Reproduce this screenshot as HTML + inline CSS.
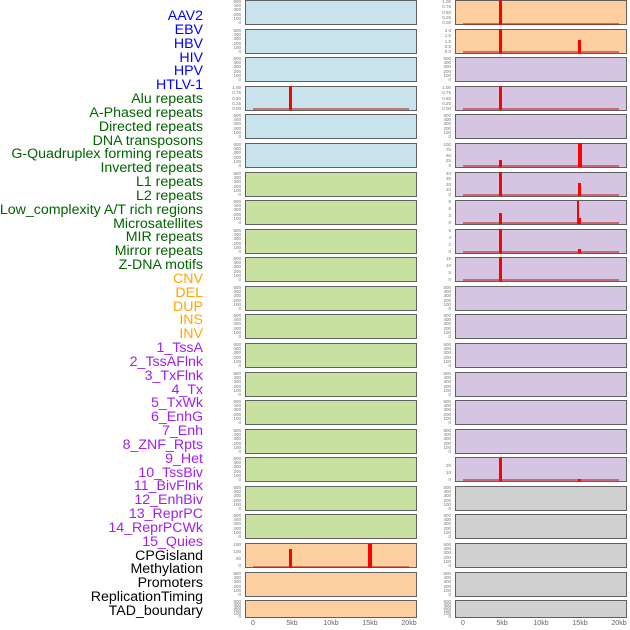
<!DOCTYPE html>
<html><head><meta charset="utf-8"><style>
body{margin:0;width:630px;height:630px;background:#fff;position:relative;overflow:hidden;font-family:"Liberation Sans",sans-serif}
.l{position:absolute;right:427px;font-size:14.2px;line-height:14px;white-space:nowrap;margin-top:1px}
.p{position:absolute;width:172px;height:25px;border:1px solid #606060;box-sizing:border-box}
.L{left:245px}.R{left:455px}
.b{background:#c8e3ec}.g{background:#c8e0a0}.o{background:#fdcf9e}.u{background:#d5c5e2}.y{background:#d0d0d0}
.t{position:absolute;width:30px;height:25px;display:flex;flex-direction:column;justify-content:space-between;text-align:right;font-size:4.5px;line-height:4px;color:#777}
.tL{left:211px}.tR{left:421px}
.r{position:absolute;background:#f00;width:3px}
.bl{position:absolute;height:2px;background:rgba(190,30,30,0.55);width:156px}
.x{position:absolute;top:620px;font-size:7px;color:#666;transform:translateX(-50%)}
</style></head><body>
<div class="l" style="top:8px;color:#00f">AAV2</div>
<div class="l" style="top:22px;color:#00f">EBV</div>
<div class="l" style="top:36px;color:#00f">HBV</div>
<div class="l" style="top:50px;color:#00f">HIV</div>
<div class="l" style="top:63px;color:#00f">HPV</div>
<div class="l" style="top:77px;color:#00f">HTLV-1</div>
<div class="l" style="top:91px;color:#006400">Alu repeats</div>
<div class="l" style="top:105px;color:#006400">A-Phased repeats</div>
<div class="l" style="top:119px;color:#006400">Directed repeats</div>
<div class="l" style="top:133px;color:#006400">DNA transposons</div>
<div class="l" style="top:146px;color:#006400">G-Quadruplex forming repeats</div>
<div class="l" style="top:160px;color:#006400">Inverted repeats</div>
<div class="l" style="top:174px;color:#006400">L1 repeats</div>
<div class="l" style="top:188px;color:#006400">L2 repeats</div>
<div class="l" style="top:202px;color:#006400">Low_complexity A/T rich regions</div>
<div class="l" style="top:216px;color:#006400">Microsatellites</div>
<div class="l" style="top:229px;color:#006400">MIR repeats</div>
<div class="l" style="top:243px;color:#006400">Mirror repeats</div>
<div class="l" style="top:257px;color:#006400">Z-DNA motifs</div>
<div class="l" style="top:271px;color:#ffa500">CNV</div>
<div class="l" style="top:285px;color:#ffa500">DEL</div>
<div class="l" style="top:299px;color:#ffa500">DUP</div>
<div class="l" style="top:312px;color:#ffa500">INS</div>
<div class="l" style="top:326px;color:#ffa500">INV</div>
<div class="l" style="top:340px;color:#a020f0">1_TssA</div>
<div class="l" style="top:354px;color:#a020f0">2_TssAFlnk</div>
<div class="l" style="top:368px;color:#a020f0">3_TxFlnk</div>
<div class="l" style="top:382px;color:#a020f0">4_Tx</div>
<div class="l" style="top:395px;color:#a020f0">5_TxWk</div>
<div class="l" style="top:409px;color:#a020f0">6_EnhG</div>
<div class="l" style="top:423px;color:#a020f0">7_Enh</div>
<div class="l" style="top:437px;color:#a020f0">8_ZNF_Rpts</div>
<div class="l" style="top:451px;color:#a020f0">9_Het</div>
<div class="l" style="top:465px;color:#a020f0">10_TssBiv</div>
<div class="l" style="top:478px;color:#a020f0">11_BivFlnk</div>
<div class="l" style="top:492px;color:#a020f0">12_EnhBiv</div>
<div class="l" style="top:506px;color:#a020f0">13_ReprPC</div>
<div class="l" style="top:520px;color:#a020f0">14_ReprPCWk</div>
<div class="l" style="top:534px;color:#a020f0">15_Quies</div>
<div class="l" style="top:548px;color:#000">CPGisland</div>
<div class="l" style="top:561px;color:#000">Methylation</div>
<div class="l" style="top:575px;color:#000">Promoters</div>
<div class="l" style="top:589px;color:#000">ReplicationTiming</div>
<div class="l" style="top:603px;color:#000">TAD_boundary</div>

<div class="p L b" style="top:0px"></div><div class="p R o" style="top:0px"></div>
<div class="p L b" style="top:29px"></div><div class="p R o" style="top:29px"></div>
<div class="p L b" style="top:57px"></div><div class="p R u" style="top:57px"></div>
<div class="p L b" style="top:86px"></div><div class="p R u" style="top:86px"></div>
<div class="p L b" style="top:114px"></div><div class="p R u" style="top:114px"></div>
<div class="p L b" style="top:143px"></div><div class="p R u" style="top:143px"></div>
<div class="p L g" style="top:172px"></div><div class="p R u" style="top:172px"></div>
<div class="p L g" style="top:200px"></div><div class="p R u" style="top:200px"></div>
<div class="p L g" style="top:229px"></div><div class="p R u" style="top:229px"></div>
<div class="p L g" style="top:257px"></div><div class="p R u" style="top:257px"></div>
<div class="p L g" style="top:286px"></div><div class="p R u" style="top:286px"></div>
<div class="p L g" style="top:314px"></div><div class="p R u" style="top:314px"></div>
<div class="p L g" style="top:343px"></div><div class="p R u" style="top:343px"></div>
<div class="p L g" style="top:372px"></div><div class="p R u" style="top:372px"></div>
<div class="p L g" style="top:400px"></div><div class="p R u" style="top:400px"></div>
<div class="p L g" style="top:429px"></div><div class="p R u" style="top:429px"></div>
<div class="p L g" style="top:457px"></div><div class="p R u" style="top:457px"></div>
<div class="p L g" style="top:486px"></div><div class="p R y" style="top:486px"></div>
<div class="p L g" style="top:514px"></div><div class="p R y" style="top:514px"></div>
<div class="p L o" style="top:543px"></div><div class="p R y" style="top:543px"></div>
<div class="p L o" style="top:572px"></div><div class="p R y" style="top:572px"></div>
<div class="p L o" style="top:600px;height:18px"></div><div class="p R y" style="top:600px;height:18px"></div>

<div class="t tL" style="top:0px"><span>500</span><span>400</span><span>300</span><span>200</span><span>100</span><span>0</span></div>
<div class="t tL" style="top:29px"><span>500</span><span>400</span><span>300</span><span>200</span><span>100</span><span>0</span></div>
<div class="t tL" style="top:57px"><span>500</span><span>400</span><span>300</span><span>200</span><span>100</span><span>0</span></div>
<div class="t tL" style="top:86px"><span>1.00</span><span>0.75</span><span>0.50</span><span>0.25</span><span>0.00</span></div>
<div class="t tL" style="top:114px"><span>500</span><span>400</span><span>300</span><span>200</span><span>100</span><span>0</span></div>
<div class="t tL" style="top:143px"><span>500</span><span>400</span><span>300</span><span>200</span><span>100</span><span>0</span></div>
<div class="t tL" style="top:172px"><span>500</span><span>400</span><span>300</span><span>200</span><span>100</span><span>0</span></div>
<div class="t tL" style="top:200px"><span>500</span><span>400</span><span>300</span><span>200</span><span>100</span><span>0</span></div>
<div class="t tL" style="top:229px"><span>500</span><span>400</span><span>300</span><span>200</span><span>100</span><span>0</span></div>
<div class="t tL" style="top:257px"><span>500</span><span>400</span><span>300</span><span>200</span><span>100</span><span>0</span></div>
<div class="t tL" style="top:286px"><span>500</span><span>400</span><span>300</span><span>200</span><span>100</span><span>0</span></div>
<div class="t tL" style="top:314px"><span>500</span><span>400</span><span>300</span><span>200</span><span>100</span><span>0</span></div>
<div class="t tL" style="top:343px"><span>500</span><span>400</span><span>300</span><span>200</span><span>100</span><span>0</span></div>
<div class="t tL" style="top:372px"><span>500</span><span>400</span><span>300</span><span>200</span><span>100</span><span>0</span></div>
<div class="t tL" style="top:400px"><span>500</span><span>400</span><span>300</span><span>200</span><span>100</span><span>0</span></div>
<div class="t tL" style="top:429px"><span>500</span><span>400</span><span>300</span><span>200</span><span>100</span><span>0</span></div>
<div class="t tL" style="top:457px"><span>500</span><span>400</span><span>300</span><span>200</span><span>100</span><span>0</span></div>
<div class="t tL" style="top:486px"><span>500</span><span>400</span><span>300</span><span>200</span><span>100</span><span>0</span></div>
<div class="t tL" style="top:514px"><span>500</span><span>400</span><span>300</span><span>200</span><span>100</span><span>0</span></div>
<div class="t tL" style="top:543px"><span>150</span><span>100</span><span>50</span><span>0</span></div>
<div class="t tL" style="top:572px"><span>500</span><span>400</span><span>300</span><span>200</span><span>100</span><span>0</span></div>
<div class="t tL" style="top:600px;height:18px;line-height:3px"><span>500</span><span>400</span><span>300</span><span>200</span><span>100</span><span>0</span></div>
<div class="t tR" style="top:0px"><span>1.00</span><span>0.75</span><span>0.50</span><span>0.25</span><span>0.00</span></div>
<div class="t tR" style="top:29px"><span>2.0</span><span>1.5</span><span>1.0</span><span>0.5</span><span>0.0</span></div>
<div class="t tR" style="top:57px"><span>500</span><span>400</span><span>300</span><span>200</span><span>100</span><span>0</span></div>
<div class="t tR" style="top:86px"><span>1.00</span><span>0.75</span><span>0.50</span><span>0.25</span><span>0.00</span></div>
<div class="t tR" style="top:114px"><span>500</span><span>400</span><span>300</span><span>200</span><span>100</span><span>0</span></div>
<div class="t tR" style="top:143px"><span>100</span><span>75</span><span>50</span><span>25</span><span>0</span></div>
<div class="t tR" style="top:172px"><span>40</span><span>30</span><span>20</span><span>10</span><span>0</span></div>
<div class="t tR" style="top:200px"><span>9</span><span>6</span><span>3</span><span>0</span></div>
<div class="t tR" style="top:229px"><span>6</span><span>4</span><span>2</span><span>0</span></div>
<div class="t tR" style="top:257px"><span>15</span><span>10</span><span>5</span><span>0</span></div>
<div class="t tR" style="top:286px"><span>500</span><span>400</span><span>300</span><span>200</span><span>100</span><span>0</span></div>
<div class="t tR" style="top:314px"><span>500</span><span>400</span><span>300</span><span>200</span><span>100</span><span>0</span></div>
<div class="t tR" style="top:343px"><span>500</span><span>400</span><span>300</span><span>200</span><span>100</span><span>0</span></div>
<div class="t tR" style="top:372px"><span>500</span><span>400</span><span>300</span><span>200</span><span>100</span><span>0</span></div>
<div class="t tR" style="top:400px"><span>500</span><span>400</span><span>300</span><span>200</span><span>100</span><span>0</span></div>
<div class="t tR" style="top:429px"><span>500</span><span>400</span><span>300</span><span>200</span><span>100</span><span>0</span></div>
<div class="t tR" style="top:457px"><span>&nbsp;</span><span>20</span><span>10</span><span>0</span></div>
<div class="t tR" style="top:486px"><span>500</span><span>400</span><span>300</span><span>200</span><span>100</span><span>0</span></div>
<div class="t tR" style="top:514px"><span>500</span><span>400</span><span>300</span><span>200</span><span>100</span><span>0</span></div>
<div class="t tR" style="top:543px"><span>500</span><span>400</span><span>300</span><span>200</span><span>100</span><span>0</span></div>
<div class="t tR" style="top:572px"><span>500</span><span>400</span><span>300</span><span>200</span><span>100</span><span>0</span></div>
<div class="t tR" style="top:600px;height:18px;line-height:3px"><span>500</span><span>400</span><span>300</span><span>200</span><span>100</span><span>0</span></div>

<div class="bl" style="left:253px;top:108px"></div>
<div class="bl" style="left:253px;top:566px"></div>
<div class="bl" style="left:463px;top:23px"></div>
<div class="bl" style="left:463px;top:51px"></div>
<div class="bl" style="left:463px;top:108px"></div>
<div class="bl" style="left:463px;top:165px"></div>
<div class="bl" style="left:463px;top:194px"></div>
<div class="bl" style="left:463px;top:222px"></div>
<div class="bl" style="left:463px;top:251px"></div>
<div class="bl" style="left:463px;top:279px"></div>
<div class="bl" style="left:463px;top:479px"></div>

<div class="r" style="left:289px;top:86px;height:24px"></div>
<div class="r" style="left:289px;top:549px;height:19px"></div>
<div class="r" style="left:368px;top:544px;height:24px;width:4px"></div>
<div class="r" style="left:499px;top:0px;height:25px"></div>
<div class="r" style="left:499px;top:29px;height:24px"></div>
<div class="r" style="left:578px;top:40px;height:13px"></div>
<div class="r" style="left:499px;top:86px;height:24px"></div>
<div class="r" style="left:499px;top:160px;height:7px"></div>
<div class="r" style="left:578px;top:143px;height:24px;width:4px"></div>
<div class="r" style="left:499px;top:172px;height:24px"></div>
<div class="r" style="left:578px;top:183px;height:13px"></div>
<div class="r" style="left:499px;top:213px;height:11px"></div>
<div class="r" style="left:577px;top:201px;height:23px;width:2px"></div>
<div class="r" style="left:578px;top:218px;height:6px"></div>
<div class="r" style="left:499px;top:229px;height:24px"></div>
<div class="r" style="left:578px;top:249px;height:4px"></div>
<div class="r" style="left:499px;top:257px;height:24px"></div>
<div class="r" style="left:499px;top:458px;height:23px"></div>
<div class="r" style="left:578px;top:479px;height:2px"></div>

<div class="x" style="left:253px">0</div>
<div class="x" style="left:292px">5kb</div>
<div class="x" style="left:331px">10kb</div>
<div class="x" style="left:370px">15kb</div>
<div class="x" style="left:409px">20kb</div>
<div class="x" style="left:463px">0</div>
<div class="x" style="left:502px">5kb</div>
<div class="x" style="left:541px">10kb</div>
<div class="x" style="left:580px">15kb</div>
<div class="x" style="left:619px">20kb</div>
</body></html>
